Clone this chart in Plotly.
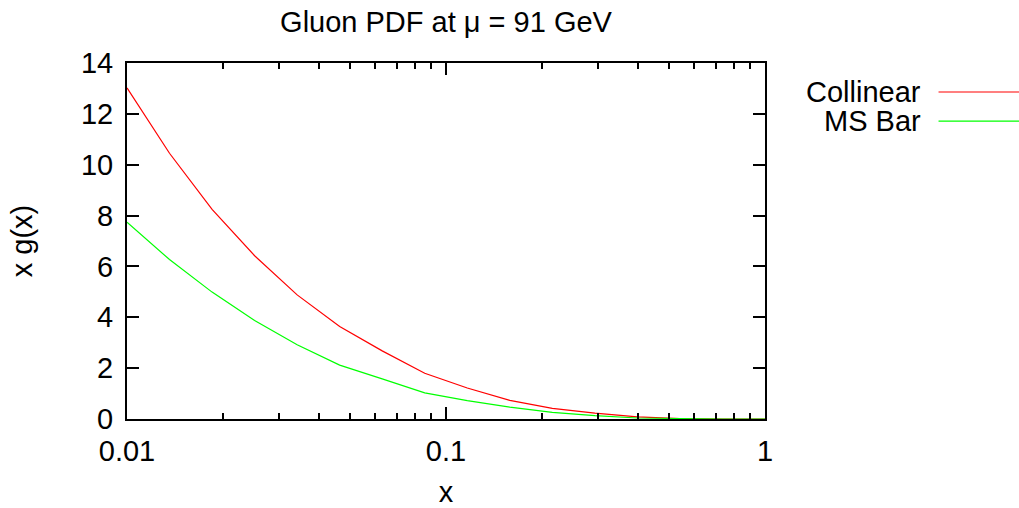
import numpy as np
import plotly.graph_objects as go

# x grid: 16 log-spaced points from 0.01 to 1
x_vals = [0.01, 0.01359, 0.01848, 0.02512, 0.03415, 0.04642, 0.0631, 0.08577,
          0.1166, 0.1585, 0.2154, 0.2929, 0.3981, 0.5412, 0.7356, 1.0]
collinear = [13.02, 10.45, 8.24, 6.42, 4.88, 3.64, 2.68, 1.80,
             1.22, 0.73, 0.42, 0.23, 0.08, 0.015, 0.0, 0.0]
msbar = [7.74, 6.27, 4.99, 3.87, 2.92, 2.12, 1.58, 1.03,
         0.72, 0.47, 0.26, 0.13, 0.04, 0.01, 0.0, 0.0]
series_names = ["Collinear", "MS Bar"]
series_colors = ["#ff0000", "#00ff00"]

FONT = "Liberation Sans, Arial, sans-serif"
FS = 29

fig = go.Figure()
for name, ys, col in zip(series_names, [collinear, msbar], series_colors):
    fig.add_trace(go.Scatter(x=x_vals, y=ys, mode="lines", name=name,
                             line=dict(color=col, width=1.2), showlegend=False))

axis_common = dict(showline=True, linecolor="black", linewidth=2, mirror="ticks",
                   ticks="inside", ticklen=12, tickwidth=2, tickcolor="black",
                   showgrid=False, zeroline=False, automargin=False,
                   tickfont=dict(family=FONT, size=FS, color="black"))

fig.update_xaxes(type="log", range=[-2, 0], tickmode="array",
                 tickvals=[0.01, 0.1, 1], ticktext=["0.01", "0.1", "1"],
                 ticklabelstandoff=5,
                 minor=dict(ticks="inside", ticklen=6, tickwidth=2, tickcolor="black",
                            tickvals=[a * 10.0 ** e for e in (-2, -1) for a in range(2, 10)],
                            showgrid=False),
                 title=dict(text="x", font=dict(family=FONT, size=FS, color="black"), standoff=18),
                 **axis_common)
fig.update_yaxes(range=[0, 14], dtick=2, tick0=0, ticklabelstandoff=6,
                 title=dict(text="x g(x)", font=dict(family=FONT, size=FS, color="black"), standoff=40),
                 **axis_common)

# legend drawn gnuplot-style: text then sample line
legend_line_y = [0.9185, 0.837]
legend_text_y = [0.919, 0.839]
for name, col, ly, ty in zip(series_names, series_colors, legend_line_y, legend_text_y):
    fig.add_annotation(text=name, xref="paper", yref="paper", x=1.246, y=ty,
                       xanchor="right", yanchor="middle", showarrow=False,
                       height=27, valign="middle", borderpad=0,
                       font=dict(family=FONT, size=FS, color="black"))
    fig.add_shape(type="line", xref="paper", yref="paper", x0=1.272, x1=1.40,
                  y0=ly, y1=ly, line=dict(color=col, width=1.2))

fig.update_layout(
    width=1019, height=508,
    margin=dict(l=127, r=254, t=63, b=89, autoexpand=False),
    paper_bgcolor="white", plot_bgcolor="white",
    title=dict(text="Gluon PDF at μ = 91 GeV", x=0.5, xref="paper",
               y=1 - 22 / 508, yref="container", xanchor="center", yanchor="middle",
               font=dict(family=FONT, size=FS, color="black")),
)

fig.write_html("out.html")
